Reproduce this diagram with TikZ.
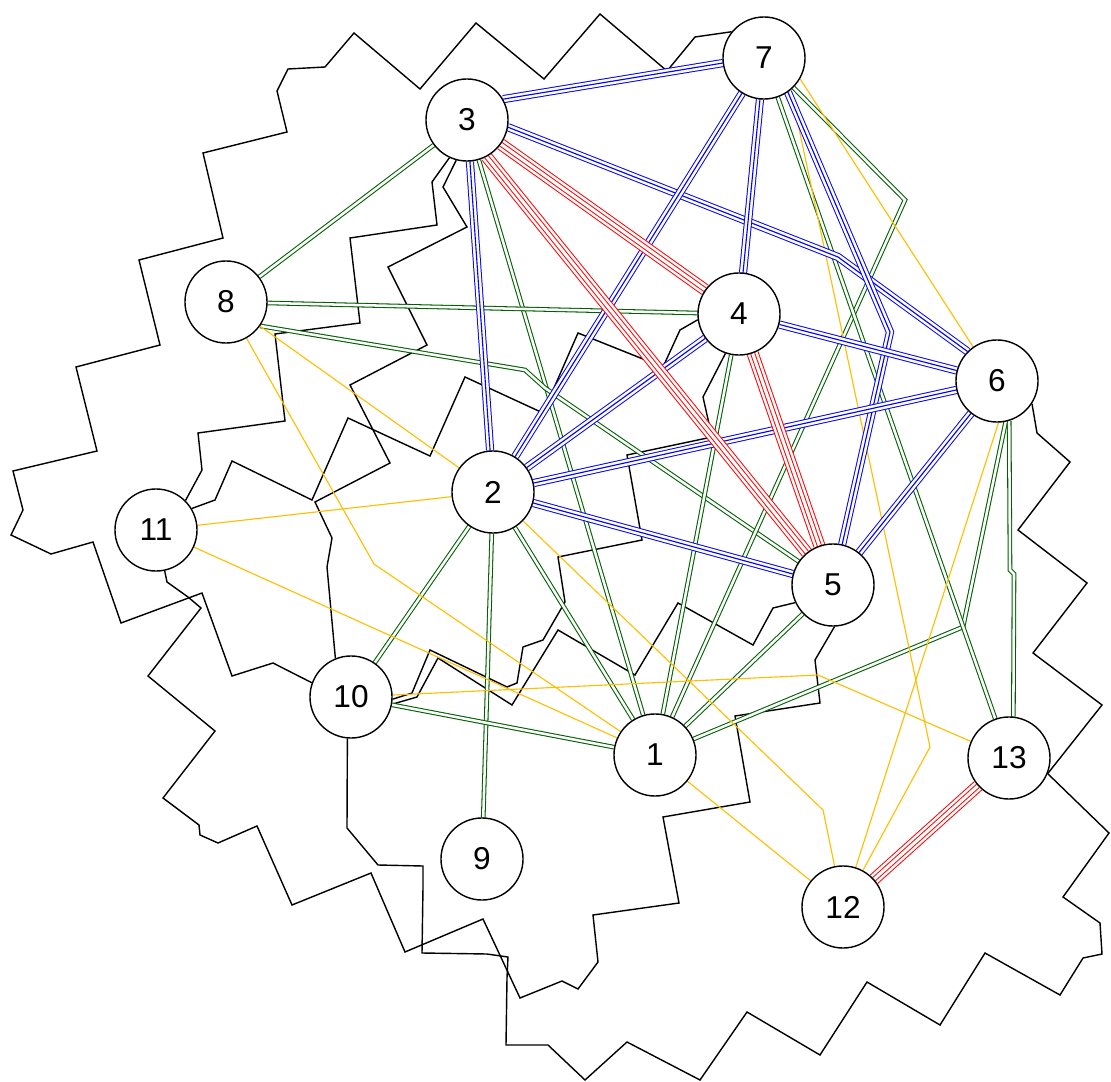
\documentclass[tikz,border=0pt]{standalone}
\usepackage{fontspec}
\setmainfont{Liberation Sans}
\usepackage{tikz}
\usetikzlibrary{backgrounds}
\definecolor{cBlue}{RGB}{0,0,255}
\definecolor{cRed}{RGB}{255,0,0}
\definecolor{cGreen}{RGB}{0,96,0}
\definecolor{cYellow}{RGB}{255,190,0}
\tikzset{
	vertex/.style={circle, draw=black, line width=1pt, fill=white, minimum size=2.05cm, inner sep=0pt, font=\fontsize{22.5}{26}\selectfont},
	% link styles: one, two, three and four strands
	route/.style={draw=black, line width=1pt},
	linkY/.style={draw=cYellow, line width=0.8pt},
	linkG/.style={draw=cGreen, double=white, line width=0.75pt, double distance=1.8pt},
	linkB/.style={draw=cBlue, line width=5.8pt, postaction={draw=white, line width=4.4pt}, postaction={draw=cBlue, line width=0.8pt}},
	linkR/.style={draw=cRed, line width=8.6pt, postaction={draw=white, line width=7.2pt}, postaction={draw=cRed, line width=3.6pt}, postaction={draw=white, line width=2.2pt}},
}

\begin{document}
\begin{tikzpicture}[x=0.025cm, y=-0.025cm]
	\useasboundingbox (0,0) rectangle (1111,1082);
	\node[vertex] (n1) at (655,755) {1};
	\node[vertex] (n2) at (493,492) {2};
	\node[vertex] (n3) at (467,120) {3};
	\node[vertex] (n4) at (739,314) {4};
	\node[vertex] (n5) at (833,585) {5};
	\node[vertex] (n6) at (997,381) {6};
	\node[vertex] (n7) at (764,58) {7};
	\node[vertex] (n8) at (226,302) {8};
	\node[vertex] (n9) at (482,859) {9};
	\node[vertex] (n10) at (351,697) {10};
	\node[vertex] (n11) at (156,530) {11};
	\node[vertex] (n12) at (843,907) {12};
	\node[vertex] (n13) at (1009,758) {13};

	\begin{scope}[on background layer]
		% black routes
		\draw[route] (n7.141) -- (695,37) -- (667,71) -- (600,14) -- (544,79) -- (476,23) -- (420,89) -- (354,33) -- (325,67) -- (288,69) -- (277,91) -- (287,132) -- (203,153) -- (223,238) -- (139,260) -- (160,345) -- (76,367) -- (97,451) -- (13,471) -- (23,510) -- (11,535) -- (51,554) -- (93,542) -- (121,623) -- (202,593) -- (232,676) -- (273,663) -- (n10.160);
		\draw[route] (n11.-78) -- (167,582) -- (188,597) -- (201,608) -- (148,676) -- (215,731) -- (163,798) -- (199,825) -- (200,835) -- (218,843) -- (257,826) -- (292,905) -- (371,873) -- (405,952) -- (483,919) -- (520,998) -- (562,981) -- (578,989) -- (598,962) -- (593,915) -- (679,903) -- (663,817) -- (750,802) -- (735,716) -- (820,703) -- (815,660) -- (n5.-88);
		\draw[route] (n10.-95) -- (347,828) -- (378,865) -- (423,866) -- (423,887) -- (422,953) -- (487,954) -- (508,957) -- (507,978) -- (506,1045) -- (548,1045) -- (585,1080) -- (627,1042) -- (700,1080) -- (747,1012) -- (820,1055) -- (867,982) -- (940,1025) -- (985,953) -- (1060,995) -- (1083,958) -- (1102,954) -- (1100,923) -- (1063,897) -- (1109,833) -- (n13.-22);
		\draw[route] (n6.-33) -- (1037,433) -- (1070,462) -- (1018,530) -- (1087,583) -- (1033,653) -- (1102,705) -- (n13.-22);
		\draw[route] (n3.-115) -- (432,182) -- (437,225) -- (350,238) -- (360,323) -- (275,334) -- (285,421) -- (198,433) -- (202,470) -- (n11.45);
		\draw[route] (n11.31) -- (215,500) -- (232,461) -- (312,500) -- (348,418) -- (430,456) -- (465,377) -- (543,413) -- (578,333) -- (663,367) -- (680,330) -- (n4.188);
		\draw[route] (n3.-105) -- (443,187) -- (467,227) -- (388,267) -- (427,345) -- (350,385) -- (390,463) -- (315,502) -- (332,538) -- (327,567) -- (n10.112);
		\draw[route] (n4.-109) -- (703,397) -- (712,437) -- (627,455) -- (642,540) -- (558,557) -- (565,602) -- (543,640) -- (523,647) -- (517,683) -- (507,687) -- (430,650) -- (412,693) -- (n10.-3);
		\draw[route] (n10.-10) -- (417,697) -- (438,658) -- (512,705) -- (558,630) -- (635,675) -- (678,603) -- (753,645) -- (773,608) -- (n5.205);

		% two strands
		\draw[linkG] (n3) -- (n8);
		\draw[linkG] (n3) -- (n1);
		\draw[linkG] (n8) -- (n4);
		\draw[linkG] (n8.-35) -- (525,370) -- (545,388) -- (n5);
		\draw[linkG] (n2) -- (n1);
		\draw[linkG] (n2) -- (n10);
		\draw[linkG] (n2) -- (n9);
		\draw[linkG] (n10) -- (n1);
		\draw[linkG] (n4) -- (n1);
		\draw[linkG] (n5) -- (n1);
		\draw[linkG] (n7) -- (905,200) -- (n1);
		\draw[linkG] (n6.-78) -- (963,627) -- (n1);
		\draw[linkG] (n6.-73) -- (1010,570) -- (1014,574) -- (n13.84);
		\draw[linkG] (n7) -- (n13);

		% one strand
		\draw[linkY] (n7.-30) -- (n6.125);
		\draw[linkY] (n7.-50) -- (930,747) -- (n12);
		\draw[linkY] (n6.-88) -- (n12);
		\draw[linkY] (n2) -- (823,810) -- (n12);
		\draw[linkY] (n1) -- (n12);
		\draw[linkY] (n8) -- (n2);
		\draw[linkY] (n8) -- (374,564) -- (n1);
		\draw[linkY] (n11) -- (n2);
		\draw[linkY] (n11) -- (n1);
		\draw[linkY] (n10) -- (818,675) -- (n13);

		% three strands
		\draw[linkB] (n3.30) -- (n7.187);
		\draw[linkB] (n3) -- (n2);
		\draw[linkB] (n3.-10) -- (838,257) -- (n6.135);
		\draw[linkB] (n7) -- (n2);
		\draw[linkB] (n7) -- (n4);
		\draw[linkB] (n7.-55) -- (890,332) -- (n5);
		\draw[linkB] (n4) -- (n2);
		\draw[linkB] (n4) -- (n6);
		\draw[linkB] (n2) -- (n6);
		\draw[linkB] (n2) -- (n5);
		\draw[linkB] (n6) -- (n5);

		% four strands
		\draw[linkR] (n3.-62) -- (n5);
		\draw[linkR] (n3) -- (n4);
		\draw[linkR] (n4) -- (n5);
		\draw[linkR] (n12) -- (n13);
	\end{scope}
\end{tikzpicture}
\end{document}
